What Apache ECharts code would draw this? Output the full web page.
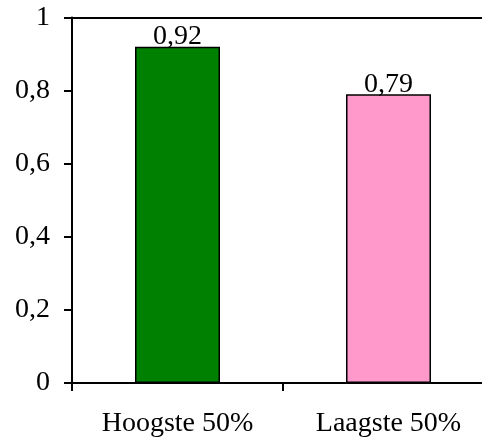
<!DOCTYPE html>
<html>
<head>
<meta charset="utf-8">
<script src="https://cdn.jsdelivr.net/npm/echarts@6/dist/echarts.min.js"></script>
<style>
  html, body { margin: 0; padding: 0; background: #fff; overflow: hidden; }
  #chart { width: 494px; height: 440px; }
</style>
</head>
<body>
<div id="chart"></div>
<script>
// data
const categories = ['Hoogste 50%', 'Laagste 50%']
const values = [0.92, 0.79]
const barColors = ['#008000', '#ff99cc']
const yTicks = [0, 0.2, 0.4, 0.6, 0.8, 1]

const font = 'Liberation Serif'
const fmt = v => String(v).replace('.', ',')

// canvas is a bit wider than the window, the right end of the axis gets cut off like in the original
const myChart = echarts.init(document.getElementById('chart'))
const option = {
  animation: false,
  grid: { left: 72, right: 0, top: 17.5, bottom: 57 },
  xAxis: [
    {
      type: 'category',
      data: categories,
      axisLine: { lineStyle: { color: '#000', width: 2 } },
      axisTick: { show: true, length: 8, lineStyle: { color: '#000', width: 2 } },
      axisLabel: { color: '#000', fontFamily: font, fontSize: 28, margin: 27 }
    },
    {
      type: 'category',
      position: 'top',
      data: categories,
      axisLine: { lineStyle: { color: '#000', width: 2 } },
      axisTick: { show: false },
      axisLabel: { show: false }
    }
  ],
  yAxis: {
    type: 'value',
    min: yTicks[0],
    max: yTicks[yTicks.length - 1],
    interval: 0.2,
    splitLine: { show: false },
    axisLine: { show: true, lineStyle: { color: '#000', width: 2 } },
    axisTick: { show: true, length: 8, lineStyle: { color: '#000', width: 2 } },
    axisLabel: { color: '#000', fontFamily: font, fontSize: 28, margin: 22, formatter: fmt }
  },
  series: [{
    type: 'bar',
    barWidth: 85,
    data: values.map((v, i) => ({
      value: v,
      itemStyle: { color: barColors[i], borderColor: '#000', borderWidth: 1.5 }
    })),
    label: {
      show: true,
      position: 'top',
      distance: -4,
      color: '#000',
      fontFamily: font,
      fontSize: 28,
      formatter: p => fmt(p.value)
    }
  }]
}
myChart.setOption(option)
</script>
</body>
</html>
